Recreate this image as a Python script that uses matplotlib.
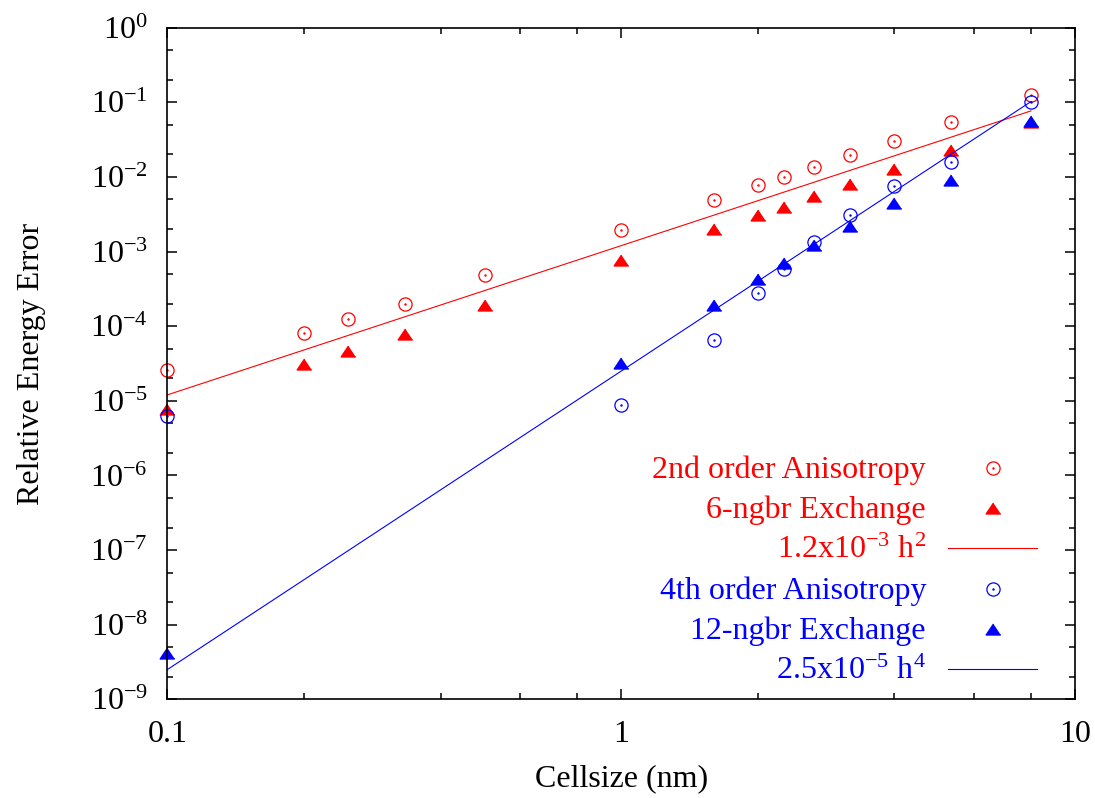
import numpy as np
import matplotlib
matplotlib.use('Agg')
import matplotlib.pyplot as plt
from matplotlib.lines import Line2D
from matplotlib.ticker import LogLocator, NullFormatter

plt.rcParams['font.family'] = ['Liberation Serif', 'DejaVu Serif']
plt.rcParams['mathtext.fontset'] = 'custom'
plt.rcParams['mathtext.rm'] = 'Liberation Serif'
plt.rcParams['mathtext.default'] = 'regular'
plt.rcParams['axes.unicode_minus'] = False

# cell sizes (nm)
h = [0.1, 0.2, 0.25, 1 / 3, 0.5, 1, 1.6, 2, 8 / 3.5, 8 / 3, 3.2, 4, 8 / 1.5, 8]
aniso2 = [2.55e-5, 8.2e-5, 1.26e-4, 2.0e-4, 4.8e-4, 1.93e-3, 4.9e-3, 7.7e-3,
          1.0e-2, 1.38e-2, 1.97e-2, 3.07e-2, 5.4e-2, 0.124]
exch6 = [7.7e-6, 3.1e-5, 4.7e-5, 7.9e-5, 1.93e-4, 7.7e-4, 2.0e-3, 3.1e-3,
         4.0e-3, 5.5e-3, 8.1e-3, 1.27e-2, 2.28e-2, 0.054]

h4 = [0.1, 1, 1.6, 2, 8 / 3.5, 8 / 3, 3.2, 4, 8 / 1.5, 8]
aniso4 = [6.2e-6, 8.9e-6, 6.6e-5, 2.8e-4, 5.9e-4, 1.34e-3, 3.1e-3, 7.5e-3,
          1.57e-2, 0.102]
exch12 = [4.2e-9, 3.2e-5, 1.9e-4, 4.3e-4, 7.0e-4, 1.23e-3, 2.2e-3, 4.5e-3,
          9.0e-3, 0.057]

# fitted power laws  c * h^p
fit_coef = [1.2e-3, 2.5e-5]
fit_pow = [2, 4]
fit_range = [0.1, 8]

labels = ['2nd order Anisotropy', '6-ngbr Exchange', r'1.2x10$^{-3}$ h$^{2}$',
          '4th order Anisotropy', '12-ngbr Exchange', r'2.5x10$^{-5}$ h$^{4}$']

red = '#ff0000'
blue = '#0000ff'
tri = [(0, 0.75), (-1, -0.75), (1, -0.75)]
fs = 23

W, H = 1095, 798
fig = plt.figure(figsize=(W / 100, H / 100), dpi=100)
ax = fig.add_axes([167.3 / W, 1 - 699.3 / H, (1075 - 167.3) / W, (699.3 - 27.7) / H])


def circ(x, y, c):
    ax.plot(x, y, 'o', ls='none', mfc='none', mec=c, ms=9.5, mew=0.9, clip_on=False)
    ax.plot(x, y, '.', ls='none', color=c, ms=1.5, clip_on=False)


hf = np.array(fit_range)
circ(h, aniso2, red)
ax.plot(h, exch6, ls='none', marker=tri, color=red, ms=10.5, clip_on=False)
ax.plot(hf, fit_coef[0] * hf ** fit_pow[0], color=red, lw=0.8)
circ(h4, aniso4, blue)
ax.plot(h4, exch12, ls='none', marker=tri, color=blue, ms=10.5, clip_on=False)
ax.plot(hf, fit_coef[1] * hf ** fit_pow[1], color=blue, lw=0.8)

ax.set_xscale('log')
ax.set_yscale('log')
ax.set_xlim(0.1, 10)
ax.set_ylim(1e-9, 1)
ax.set_xticks([0.1, 1, 10])
ax.set_xticklabels(['0.1', '1', '10'])
ax.xaxis.set_minor_locator(LogLocator(base=10, subs=[2, 4, 6, 8]))
ax.xaxis.set_minor_formatter(NullFormatter())
ax.yaxis.set_major_locator(LogLocator(base=10, numticks=20))
ax.yaxis.set_minor_locator(LogLocator(base=10, subs=[2, 5], numticks=20))
ax.yaxis.set_minor_formatter(NullFormatter())

ax.tick_params(which='both', direction='in', top=True, right=True, width=1.1,
               labelsize=fs)
ax.tick_params(which='major', length=7.2)
ax.tick_params(which='minor', length=4.5)
ax.tick_params(axis='x', pad=15)
ax.tick_params(axis='y', pad=14)
for s in ax.spines.values():
    s.set_linewidth(1.2)

ax.set_xlabel('Cellsize (nm)', fontsize=fs, labelpad=11)
ax.set_ylabel('Relative Energy Error', fontsize=fs, labelpad=32)

# legend drawn by hand, text right aligned with the sample on its right
colors = [red, red, red, blue, blue, blue]
kinds = ['circ', 'tri', 'line', 'circ', 'tri', 'line']
for i in range(6):
    yp = 467.7 + 40.3 * i
    fy = 1 - yp / H
    fig.text(926 / W, 1 - (yp + 10) / H, labels[i], color=colors[i],
             fontsize=fs, ha='right', va='baseline')
    if kinds[i] == 'line':
        fig.add_artist(Line2D([948 / W, 1037 / W], [fy, fy], color=colors[i], lw=0.8))
    elif kinds[i] == 'circ':
        fig.add_artist(Line2D([993 / W], [fy], marker='o', mfc='none',
                              mec=colors[i], ms=9.5, mew=0.9))
        fig.add_artist(Line2D([993 / W], [fy], marker='.', color=colors[i], ms=1.5))
    else:
        fig.add_artist(Line2D([993 / W], [fy], marker=tri, color=colors[i], ms=10.5))

fig.savefig('out.png', dpi=100)
